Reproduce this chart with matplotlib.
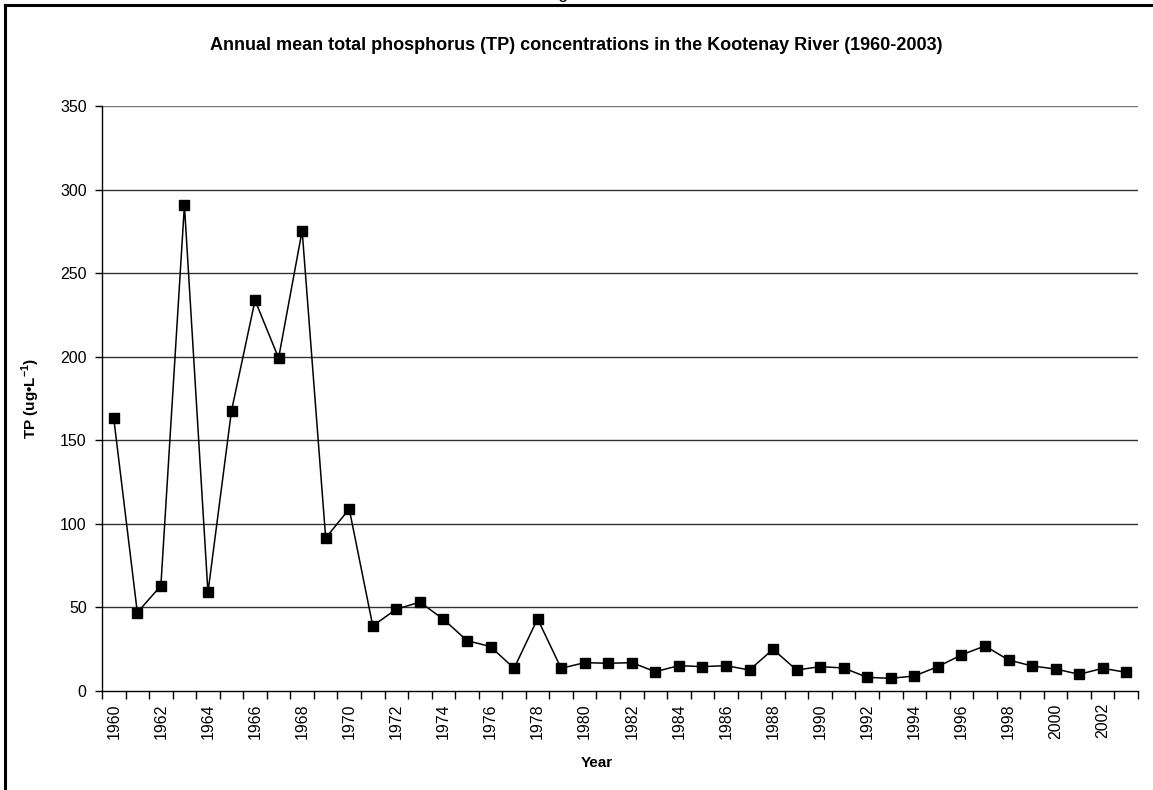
import matplotlib
matplotlib.use("Agg")
import matplotlib.pyplot as plt
from matplotlib.lines import Line2D
import numpy as np

plt.rcParams['font.family'] = ['Liberation Sans', 'DejaVu Sans']
plt.rcParams['mathtext.fontset'] = 'custom'
plt.rcParams['mathtext.rm'] = 'Liberation Sans'
plt.rcParams['mathtext.bf'] = 'Liberation Sans:bold'

years = list(range(1960, 2004))
tp = [163, 46.8, 62.8, 290.6, 58.8, 167.6, 233.7, 199.1, 275.4, 91.4,
      108.8, 38.8, 48.8, 53, 42.8, 30, 26.4, 13.4, 43, 13.4,
      16.8, 16.4, 16.8, 11.4, 15, 14.4, 15, 12.4, 24.8, 12.4,
      14.4, 13.6, 8, 7.4, 8.8, 14.4, 21.4, 26.8, 18.4, 14.8,
      13, 9.8, 13.4, 11]
yticks = [0, 50, 100, 150, 200, 250, 300, 350]
title = "Annual mean total phosphorus (TP) concentrations in the Kootenay River (1960-2003)"

fig = plt.figure(figsize=(11.53, 7.90), dpi=100)
ax = fig.add_axes([102/1153, 1-690.7/790, (1138-102)/1153, (690.7-106)/790])

x = np.arange(len(years))
ax.plot(x, tp, color='black', lw=1.1, marker='s', ms=7.5, mfc='black', mec='black', zorder=3)

ax.set_xlim(-0.5, len(years)-0.5)
ax.set_ylim(0, 350)
ax.set_yticks(yticks)
ax.set_yticklabels([str(v) for v in yticks], fontsize=11.5)
for v in yticks[1:]:
    ax.axhline(v, color='#333333' if v < 350 else '#777777', lw=1.0, zorder=1)

# category boundaries as major ticks, labels on minor ticks at centers
ax.set_xticks(np.arange(-0.5, len(years)+0.5, 1.0))
ax.set_xticklabels([])
ax.set_xticks(x[::2], minor=True)
ax.set_xticklabels([str(y) for y in years[::2]], minor=True, rotation=90, fontsize=11.5)
ax.tick_params(axis='x', which='major', direction='out', length=6, width=1, color='black')
ax.tick_params(axis='x', which='minor', length=0, pad=9)
ax.tick_params(axis='y', direction='out', length=5, width=1, pad=6)

for s in ['top', 'right']:
    ax.spines[s].set_visible(False)
ax.spines['left'].set_linewidth(1.0)
ax.spines['bottom'].set_linewidth(1.0)

ax.set_ylabel("TP (ug•L$^{\\mathbf{-1}}$)", fontsize=11, fontweight='bold')
ax.yaxis.set_label_coords(-0.058, 0.5)
ax.set_xlabel("Year", fontsize=11, fontweight='bold')
ax.xaxis.set_label_coords(0.478, -0.112)

fig.text(0.5, 1-45/790, title, ha='center', va='center', fontsize=13, fontweight='bold')
fig.text(0.5, 1+1.5/790, "Figure 3", ha='center', va='baseline', fontsize=13)

# figure border (top and left visible)
fig.add_artist(Line2D([5/1153, 5/1153], [0, 1-5/790], transform=fig.transFigure, color='black', lw=2.2))
fig.add_artist(Line2D([5/1153, 1], [1-5/790, 1-5/790], transform=fig.transFigure, color='black', lw=2.2))

fig.savefig("out.png", dpi=100)
